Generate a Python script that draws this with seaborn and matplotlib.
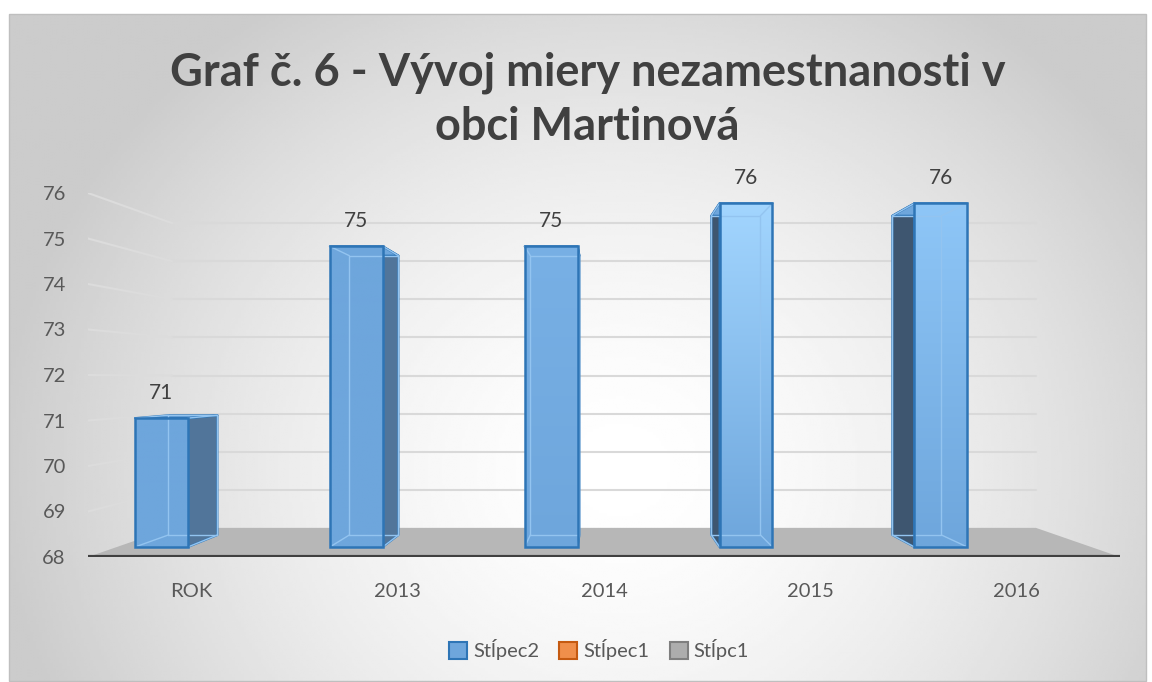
import numpy as np
import pandas as pd
import seaborn as sns
import matplotlib.pyplot as plt
from matplotlib.patches import Polygon, Rectangle
from matplotlib.colors import to_rgb

# data
categories = ["ROK", "2013", "2014", "2015", "2016"]
stlpec2 = [71, 75, 75, 76, 76]
stlpec1 = [np.nan] * 5
stlpc1 = [np.nan] * 5
series_names = ["Stĺpec2", "Stĺpec1", "Stĺpc1"]
y_ticks = [68, 69, 70, 71, 72, 73, 74, 75, 76]

# styling
face_colors = ["#6ea6dc", "#f08f4b", "#adadad"]
edge_colors = ["#2e75b6", "#c55a11", "#7f7f7f"]
top_light = ["#6ea6dc", "#6ea6dc", "#78b0e5", "#a2d5fe", "#8ec6f7"]
text_col = "#595959"

# fake 3D: vanishing point and depths (fraction towards vanishing point)
VPX, VPY = 2.0, 71.93
K_FRONT, K_BACK, K_FLOOR = 0.056, 0.123, 0.163
BASE = 68


def proj(x, y, k):
    return x + (VPX - x) * k, y + (VPY - y) * k


sns.set_style("white")
plt.rcParams["font.family"] = ["Lato", "DejaVu Sans"]

W, H = 1152, 682
fig = plt.figure(figsize=(W / 100, H / 100), dpi=100)

# background with soft radial gradient
bg = fig.add_axes([0, 0, 1, 1], zorder=-5)
bg.set_xlim(0, W)
bg.set_ylim(H, 0)
bg.axis("off")
gx, gy = np.meshgrid(np.linspace(9, 1146, 400), np.linspace(14, 681, 240))
d = np.sqrt(((gx - 620) / 620) ** 2 + ((gy - 470) / 560) ** 2)
shade = 1.0 - 0.2 * np.clip(d, 0, 1) ** 1.6
bg.imshow(shade, cmap="gray", vmin=0, vmax=1, extent=[9, 1146, 681, 14],
          aspect="auto", interpolation="bilinear")
bg.add_patch(Rectangle((9, 14), 1137, 667, fill=False, ec="#bfbfbf", lw=1))

ax = fig.add_axes([88 / W, 1 - 557 / H, (1120 - 88) / W, (557 - 193) / H])
ax.set_facecolor("none")

df = pd.DataFrame({
    "kategoria": categories * 3,
    "hodnota": stlpec2 + stlpec1 + stlpc1,
    "seria": [series_names[0]] * 5 + [series_names[1]] * 5 + [series_names[2]] * 5,
})

sns.barplot(data=df, x="kategoria", y="hodnota", hue="seria",
            hue_order=series_names, palette=face_colors, width=0.814,
            gap=0, ax=ax, zorder=4, linewidth=0, saturation=1)

# floor and walls
floor = [(-0.5, BASE), (4.5, BASE), proj(4.5, BASE, K_FLOOR), proj(-0.5, BASE, K_FLOOR)]
ax.add_patch(Polygon(floor, closed=True, fc="#b7b7b7", ec="none", zorder=1))
for t in y_ticks[1:]:
    bl = proj(-0.5, t, K_FLOOR)
    br = proj(4.5, t, K_FLOOR)
    ax.plot([bl[0], br[0]], [bl[1], br[1]], color="#d9d9d9", lw=1.5, zorder=1)
    ax.plot([-0.5, bl[0]], [t, bl[1]], color="#dcdcdc", lw=1.5, zorder=1)
ax.plot([-0.5, 4.5], [BASE, BASE], color="#404040", lw=3, zorder=2,
        solid_capstyle="butt")

bars = [p for p in ax.patches
        if isinstance(p, Rectangle) and np.isfinite(p.get_height()) and p.get_height() > 0]
bars.sort(key=lambda p: p.get_x())

for i, p in enumerate(bars):
    x0, w, top = p.get_x(), p.get_width(), p.get_height()
    x1 = x0 + w
    F = [proj(x0, BASE, K_FRONT), proj(x1, BASE, K_FRONT),
         proj(x1, top, K_FRONT), proj(x0, top, K_FRONT)]
    B = [proj(x0, BASE, K_BACK), proj(x1, BASE, K_BACK),
         proj(x1, top, K_BACK), proj(x0, top, K_BACK)]

    # front face moved onto its depth plane
    p.set_x(F[0][0])
    p.set_width(F[1][0] - F[0][0])
    p.set_y(F[0][1])
    p.set_height(F[3][1] - F[0][1])

    # side face and top face
    if (x0 + x1) / 2 < VPX:
        side = [F[1], F[2], B[2], B[1]]
        side_col = "#51759a"
    else:
        side = [F[0], F[3], B[3], B[0]]
        side_col = "#3e5670"
    ax.add_patch(Polygon(side, closed=True, fc=side_col, ec=edge_colors[0],
                         lw=1.5, zorder=3, joinstyle="round"))
    ax.add_patch(Polygon([F[3], F[2], B[2], B[3]], closed=True, fc=face_colors[0],
                         ec=edge_colors[0], lw=1.5, zorder=3, joinstyle="round"))

    # front face gradient clipped to the bar
    c_top = np.array(to_rgb(top_light[i]))
    c_bot = np.array(to_rgb(face_colors[0]))
    tt = np.linspace(0, 1, 64)[:, None, None]
    img = c_top * (1 - tt) + c_bot * tt
    im = ax.imshow(img, extent=[F[0][0], F[1][0], F[0][1], F[3][1]],
                   aspect="auto", zorder=4, interpolation="bilinear")
    im.set_clip_path(p)

    # hidden edges seen through the translucent bar
    hidden = dict(color="#93c4f0", lw=1, zorder=4.5)
    bx = [B[0][0], B[1][0], B[2][0], B[3][0], B[0][0]]
    by = [B[0][1], B[1][1], B[2][1], B[3][1], B[0][1]]
    ax.plot(bx, by, **hidden)
    for a, b in zip(F, B):
        ax.plot([a[0], b[0]], [a[1], b[1]], **hidden)

    ax.add_patch(Rectangle(F[0], F[1][0] - F[0][0], F[3][1] - F[0][1],
                           fill=False, ec=edge_colors[0], lw=1.8, zorder=5))

    ax.annotate(f"{stlpec2[i]:.0f}", xy=((F[0][0] + F[1][0]) / 2, F[3][1]),
                xytext=(0, 18), textcoords="offset points", ha="center",
                va="center", fontsize=15, color="#404040")

ax.set_xlim(-0.5, 4.5)
ax.set_ylim(68, 76)
ax.set_yticks(y_ticks)
ax.set_xticks(range(len(categories)))
ax.set_xticklabels(categories)
ax.tick_params(axis="both", length=0, labelsize=14.5, labelcolor=text_col)
ax.tick_params(axis="y", pad=16)
ax.tick_params(axis="x", pad=19)
ax.set_xlabel("")
ax.set_ylabel("")
sns.despine(ax=ax, left=True, bottom=True)

sns.move_legend(ax, "center", bbox_to_anchor=(0.52, 0.047),
                bbox_transform=fig.transFigure, ncol=3, frameon=False,
                title=None, fontsize=14.5, handlelength=0.9, handleheight=0.9,
                handletextpad=0.3, columnspacing=1.0)
leg = ax.get_legend()
for h, ec in zip(leg.legend_handles, edge_colors):
    h.set_edgecolor(ec)
    h.set_linewidth(1.5)
for txt in leg.get_texts():
    txt.set_color(text_col)

fig.text(0.51, 1 - 100 / H, "Graf č. 6 - Vývoj miery nezamestnanosti v\nobci Martinová",
         ha="center", va="center", fontsize=32.5, fontweight="bold",
         color="#404040", linespacing=1.35)

fig.savefig("out.png", dpi=100)
